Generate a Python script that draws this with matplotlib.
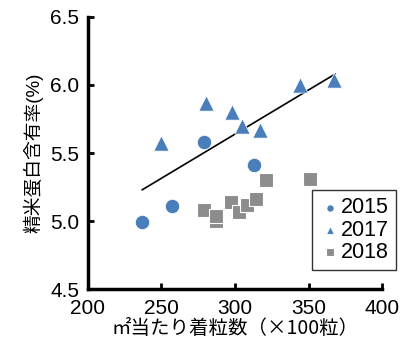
import matplotlib
matplotlib.use('Agg')
import matplotlib.pyplot as plt

plt.rcParams['font.family'] = ['Liberation Sans', 'Noto Sans CJK JP', 'DejaVu Sans']

# data
x2015 = [237, 257, 279, 313]
y2015 = [4.99, 5.11, 5.58, 5.41]
x2017 = [250, 280, 298, 305, 317, 344, 367]
y2017 = [5.57, 5.87, 5.80, 5.70, 5.67, 6.00, 6.04]
x2018 = [279, 287, 287, 297, 303, 308, 314, 321, 351]
y2018 = [5.08, 5.00, 5.04, 5.14, 5.07, 5.12, 5.16, 5.30, 5.31]
trend_x = [237, 368]
trend_y = [5.23, 6.08]
xticks = [200, 250, 300, 350, 400]
yticks = [4.5, 5.0, 5.5, 6.0, 6.5]

blue = '#4a7ebb'
gray = '#8c8c8c'

fig = plt.figure(figsize=(4.01, 3.45), dpi=100)
ax = fig.add_axes([0.219, 0.162, 0.734, 0.789])

ax.plot(trend_x, trend_y, color='black', lw=1.2, zorder=2)
ax.scatter(x2015, y2015, marker='o', s=105, color=blue, edgecolor='white', lw=0.5, zorder=3, label='2015')
ax.scatter(x2017, y2017, marker='^', s=120, color=blue, edgecolor='white', lw=0.5, zorder=3, label='2017')
ax.scatter(x2018, y2018, marker='s', s=105, color=gray, edgecolor='white', lw=0.8, zorder=3, label='2018')

ax.set_xlim(200, 400)
ax.set_ylim(4.5, 6.5)
ax.set_xticks(xticks)
ax.set_yticks(yticks)
ax.set_yticklabels(['%.1f' % v for v in yticks])
ax.tick_params(direction='in', length=4, width=2, labelsize=15, colors='black')
ax.tick_params(axis='x', pad=7)
ax.tick_params(axis='y', pad=6)
for s in ['top', 'right']:
    ax.spines[s].set_visible(False)
for s in ['left', 'bottom']:
    ax.spines[s].set_linewidth(2.5)

ax.set_xlabel('㎡当たり着粒数（×100粒）', fontsize=14, labelpad=0,
              family=['Noto Sans CJK JP', 'DejaVu Sans'])
ax.set_ylabel('精米蛋白含有率(%)', fontsize=13.5, labelpad=5)

leg = ax.legend(loc='lower right', bbox_to_anchor=(1.085, 0.03), fontsize=15.5, markerscale=0.5,
                handletextpad=0.0, handlelength=1.0, labelspacing=0.05, borderpad=0.35,
                frameon=True, fancybox=False, edgecolor='black')
leg.get_frame().set_linewidth(1.0)

fig.savefig('out.png', dpi=100)
